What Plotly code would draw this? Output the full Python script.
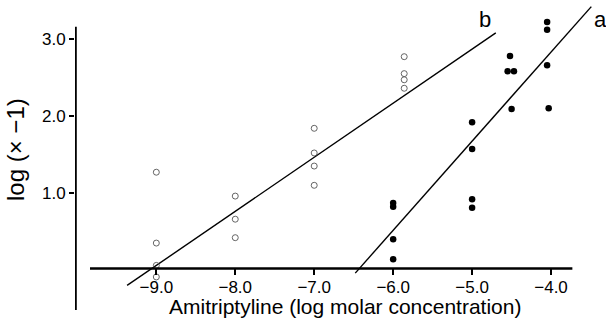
import plotly.graph_objects as go

# ---- data ----
# series b (open circles)
b_x = [-9.0, -9.0, -9.0, -9.0, -8.0, -8.0, -8.0, -7.0, -7.0, -7.0, -7.0, -5.86, -5.86, -5.86, -5.86]
b_y = [1.27, 0.35, 0.06, -0.09, 0.96, 0.66, 0.42, 1.84, 1.52, 1.35, 1.10, 2.77, 2.55, 2.47, 2.36]
# series a (filled circles)
a_x = [-6.0, -6.0, -6.0, -6.0, -5.0, -5.0, -5.0, -5.0, -4.52, -4.55, -4.47, -4.5, -4.05, -4.05, -4.05, -4.03]
a_y = [0.87, 0.82, 0.40, 0.14, 1.92, 1.57, 0.92, 0.81, 2.78, 2.58, 2.58, 2.09, 3.22, 3.12, 2.66, 2.10]
# fitted lines (endpoints)
line_b_x = [-9.37, -4.70]
line_b_y = [-0.20, 3.08]
line_a_x = [-6.48, -3.49]
line_a_y = [-0.04, 3.42]

x_ticks = [-9.0, -8.0, -7.0, -6.0, -5.0, -4.0]
x_tick_labels = ["\u22129.0", "\u22128.0", "\u22127.0", "\u22126.0", "\u22125.0", "\u22124.0"]
y_ticks = [1.0, 2.0, 3.0]
y_tick_labels = ["1.0", "2.0", "3.0"]

X_RANGE = [-10.03, -3.38]
Y_RANGE = [-0.571, 3.48]
FONT = "Liberation Sans, Arial, Helvetica, sans-serif"

fig = go.Figure()
fig.add_trace(go.Scatter(x=line_b_x, y=line_b_y, mode="lines",
                         line=dict(color="black", width=1.4), showlegend=False, hoverinfo="skip"))
fig.add_trace(go.Scatter(x=line_a_x, y=line_a_y, mode="lines",
                         line=dict(color="black", width=1.4), showlegend=False, hoverinfo="skip"))
fig.add_trace(go.Scatter(x=b_x, y=b_y, mode="markers", name="b",
                         marker=dict(symbol="circle-open", size=6, color="#555555",
                                     line=dict(width=0.9, color="#555555")),
                         showlegend=False, cliponaxis=False))
fig.add_trace(go.Scatter(x=a_x, y=a_y, mode="markers", name="a",
                         marker=dict(symbol="circle", size=6.5, color="black"),
                         showlegend=False, cliponaxis=False))

# axis lines as in the original figure
fig.add_shape(type="line", xref="x", yref="y", x0=-9.84, x1=-3.73, y0=0.02, y1=0.02,
              line=dict(color="black", width=2.5))
fig.add_shape(type="line", xref="x", yref="y", x0=-10.02, x1=-10.02, y0=-0.52, y1=3.16,
              line=dict(color="black", width=2))

x_pos = (0.02 - Y_RANGE[0]) / (Y_RANGE[1] - Y_RANGE[0])

fig.update_xaxes(range=X_RANGE, showgrid=False, zeroline=False, showline=False,
                 anchor="free", position=x_pos, automargin=False,
                 tickmode="array", tickvals=x_ticks, ticktext=x_tick_labels,
                 ticks="outside", ticklen=6, tickwidth=1.5, tickcolor="black",
                 ticklabelstandoff=-3,
                 tickfont=dict(family=FONT, size=17, color="black"))
fig.update_yaxes(range=Y_RANGE, showgrid=False, zeroline=False, showline=False,
                 automargin=False,
                 tickmode="array", tickvals=y_ticks, ticktext=y_tick_labels,
                 ticks="outside", ticklen=5, tickwidth=1.5, tickcolor="black",
                 tickfont=dict(family=FONT, size=17, color="black"))

fig.add_annotation(text="Amitriptyline (log molar concentration)", xref="paper", yref="paper",
                   x=(345 - 75) / 525, y=(314 - 306) / 312, showarrow=False,
                   font=dict(family=FONT, size=21, color="black"), xanchor="center", yanchor="middle")
fig.add_annotation(text="log (\u00d7 \u22121)", xref="paper", yref="paper",
                   x=(15 - 75) / 525, y=(314 - 150) / 312, showarrow=False, textangle=-90,
                   font=dict(family=FONT, size=24, color="black"), xanchor="center", yanchor="middle")
fig.add_annotation(text="b", xref="paper", yref="paper",
                   x=(485 - 75) / 525, y=(314 - 19) / 312, showarrow=False,
                   font=dict(family=FONT, size=22, color="black"), xanchor="center", yanchor="middle")
fig.add_annotation(text="a", xref="paper", yref="paper",
                   x=(600 - 75) / 525, y=(314 - 19) / 312, showarrow=False,
                   font=dict(family=FONT, size=22, color="black"), xanchor="center", yanchor="middle")

fig.update_layout(width=606, height=320, margin=dict(l=75, r=6, t=2, b=6),
                  paper_bgcolor="white", plot_bgcolor="white", showlegend=False)

fig.write_html("out.html", config={"displayModeBar": False},
               post_script="document.body.style.margin='0px';document.body.style.overflow='hidden';")
